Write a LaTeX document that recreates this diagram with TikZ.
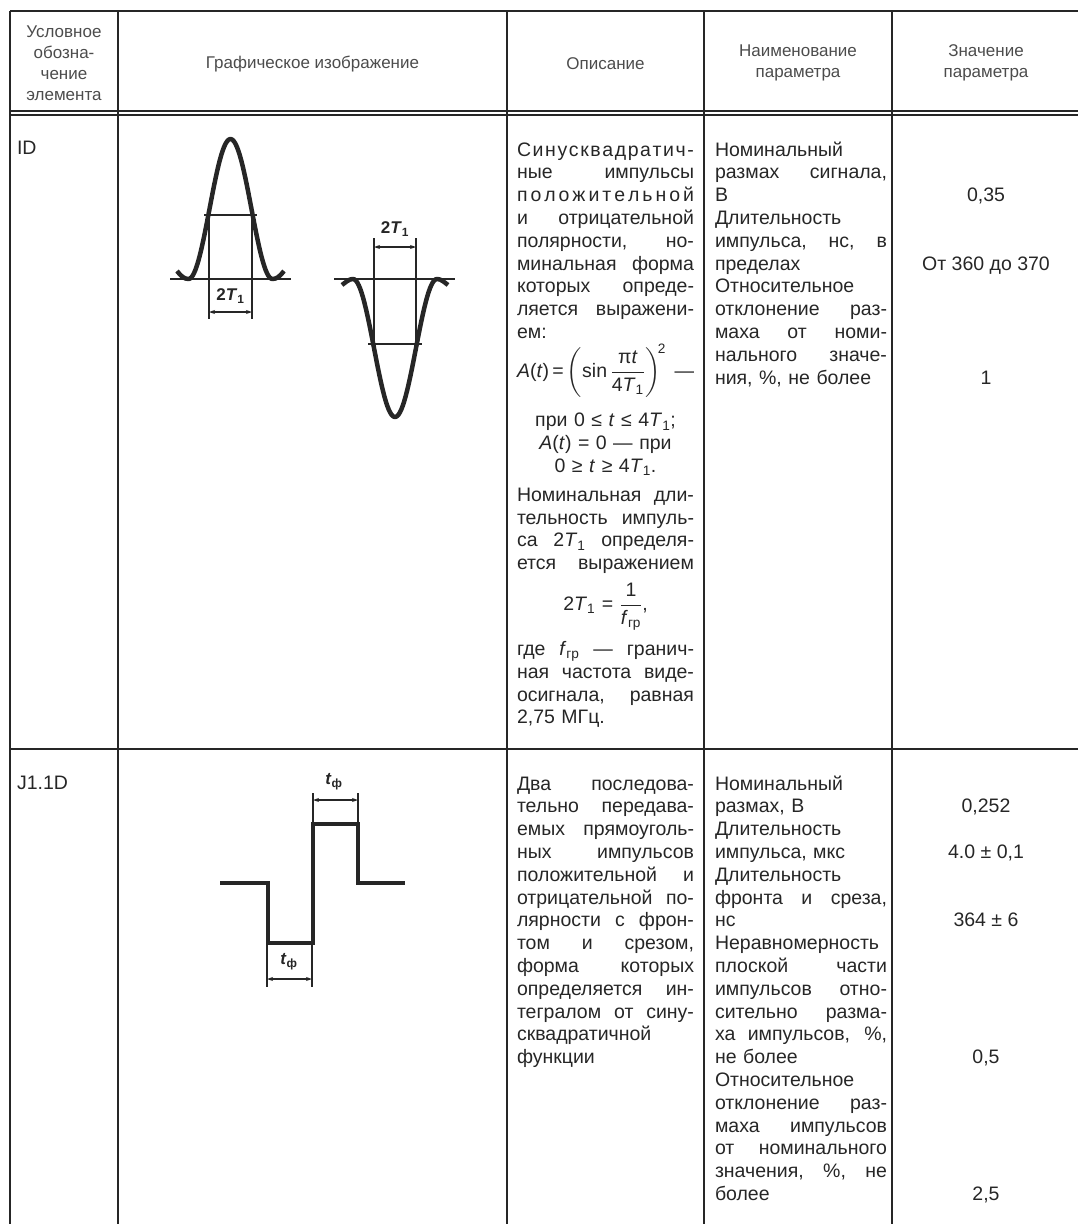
\documentclass[tikz,border=0pt]{standalone}
\usepackage{amsmath}
\usepackage{fontspec}
\setmainfont{Liberation Sans}
\usetikzlibrary{arrows.meta}

% one line of a cell: justified, left, centred, letter-spaced
\newcommand{\jrow}[1]{\hbox to\linewidth{\spaceskip=.278em plus 1fil\relax#1}}
\newcommand{\lrow}[1]{\hbox to\linewidth{#1\hfil}}
\newcommand{\crow}[1]{\hbox to\linewidth{\hfil#1\hfil}}
\makeatletter
\def\spreadword#1{\spread@go#1\@nil}
\def\spread@go#1#2\@nil{#1\if\relax\detokenize{#2}\relax\else\hfill\spread@go#2\@nil\fi}
\makeatother
\newcommand{\srow}[1]{\hbox to\linewidth{\spreadword{#1}}}
\newcommand{\Tone}{\textit{T}\textsubscript{1}}

\begin{document}
\begin{tikzpicture}[
		x=1pt, y=-1pt,
		%Option for small dimension arrows
		>={Stealth[length=6pt,width=4pt]}, %
		inner sep=0pt, outer sep=0pt,%
		tblrule/.style={line width=1.6pt, color=ink},
		thinrule/.style={line width=1.1pt, color=ink},
		pulse/.style={line width=4.5pt, color=ink, line join=round},
		halfline/.style={line width=2.4pt, color=ink},
		zeroline/.style={line width=1.5pt, color=ink},
		dimline/.style={<->, line width=1.3pt, color=ink},
		headtext/.style={font=\fontsize{17}{21}\selectfont, text=headink, align=center},
		celltext/.style={anchor=base west, font=\fontsize{19.5}{22.8}\selectfont, text=ink},
		valtext/.style={anchor=base, font=\fontsize{19.5}{22.8}\selectfont, text=ink},
		dimlabel/.style={font=\fontsize{17}{17}\selectfont\bfseries, text=ink},
	]
		% Colors
		\colorlet{ink}{black!85}
		\colorlet{headink}{black!70}

		\useasboundingbox (0,0) rectangle (1078,1224);

		% Frame
		\draw[tblrule] (10,11) -- (1078,11);
		\draw[thinrule] (10,111) -- (1078,111);
		\draw[thinrule] (10,115) -- (1078,115);
		\draw[tblrule] (10,749) -- (1078,749);
		\foreach \xc in {10,118,507,704,892}
			\draw[tblrule] (\xc,11) -- (\xc,1224);

		% Header
		\node[headtext] (hsym) at (64,63.5) {Условное\\обозна-\\чение\\элемента};
		\node[headtext] (hgraph) at (312.5,64) {Графическое изображение};
		\node[headtext] (hdesc) at (605.5,64) {Описание};
		\node[headtext] (hname) at (798,63) {Наименование\\параметра};
		\node[headtext] (hval) at (986,63) {Значение\\параметра};

		% Row ID
		\node[celltext] (symID) at (17,154) {ID};

		% positive pulse
		\draw[zeroline] (170,279) -- (291,279);
		\draw[pulse] (177,271) .. controls (181,276) and (184,279) .. (188.5,279)
			-- plot[domain=188.5:272.5, samples=60] (\x, {279 - 140*pow(sin(180*(\x-188.5)/84), 2)})
			.. controls (277,279) and (280,276) .. (284,271);
		\draw[halfline] (204,215) -- (257,215);
		\coordinate (pl) at (209,312);
		\coordinate (pr) at (252,312);
		\draw[halfline] (209,215) -- (209,319);
		\draw[halfline] (252,215) -- (252,319);
		\draw[dimline] (pl) -- (pr);
		\node[dimlabel] (tpos) at (230.5,296) {2\Tone};

		% negative pulse
		\draw[zeroline] (334,279) -- (455,279);
		\draw[pulse] (342,285) .. controls (346,282) and (349,279) .. (353,279)
			-- plot[domain=353:437, samples=60] (\x, {279 + 138*pow(sin(180*(\x-353)/84), 2)})
			.. controls (441,279) and (444,282) .. (448,285);
		\draw[halfline] (368,344) -- (422,344);
		\coordinate (nl) at (374,247);
		\coordinate (nr) at (416,247);
		\draw[halfline] (374,344) -- (374,238);
		\draw[halfline] (416,344) -- (416,238);
		\draw[dimline] (nl) -- (nr);
		\node[dimlabel] (tneg) at (395,229) {2\Tone};

		\node[celltext, text width=177pt] (desc1) at (517,156) {%
			\srow{Синусквадратич-}
			\jrow{ные импульсы}
			\srow{положительной}
			\jrow{и отрицательной}
			\jrow{полярности, но-}
			\jrow{минальная форма}
			\jrow{которых опреде-}
			\jrow{ляется выражени-}
			\lrow{ем:}
			\vskip4pt
			\lrow{\textit{A}(\textit{t})\,=\,$\left(\text{sin}\,\dfrac{\text{π\textit{t}}}{\text{4\textit{T}}_{\text{1}}}\right)^{\!\text{2}}$\hfill —}
			\vskip15pt
			\crow{при 0 ≤ \textit{t} ≤ 4\Tone;}
			\crow{\textit{A}(\textit{t}) = 0 — при}
			\crow{0 ≥ \textit{t} ≥ 4\Tone.}
			\vskip6pt
			\jrow{Номинальная дли-}
			\jrow{тельность импуль-}
			\jrow{са 2\Tone{} определя-}
			\jrow{ется выражением}
			\vskip8pt
			\crow{2\Tone{} = $\dfrac{\text{1}}{\text{\textit{f}}_{\text{гр}}}$,}
			\vskip10pt
			\jrow{где \textit{f}\textsubscript{гр} — гранич-}
			\jrow{ная частота виде-}
			\jrow{осигнала, равная}
			\lrow{2,75 МГц.}
		};

		\node[celltext, text width=172pt] (name1) at (715,156) {%
			\lrow{Номинальный}
			\jrow{размах сигнала,}
			\lrow{В}
			\lrow{Длительность}
			\jrow{импульса, нс, в}
			\lrow{пределах}
			\lrow{Относительное}
			\jrow{отклонение раз-}
			\jrow{маха от номи-}
			\jrow{нального значе-}
			\lrow{ния, \%, не более}
		};

		\node[valtext] (val1a) at (986,201.6) {0,35};
		\node[valtext] (val1b) at (986,270) {От 360 до 370};
		\node[valtext] (val1c) at (986,384) {1};

		% Row J1.1D
		\node[celltext] (symJ) at (17,789) {J1.1D};

		% square pulses
		\draw[pulse, line join=miter] (220,883) -- (268,883) -- (268,943) -- (313,943)
			-- (313,824) -- (358,824) -- (358,883) -- (405,883);
		\coordinate (ql) at (267,979);
		\coordinate (qr) at (312,979);
		\draw[halfline] (267,943) -- (267,987);
		\draw[halfline] (312,943) -- (312,987);
		\draw[dimline] (ql) -- (qr);
		\node[dimlabel] (tfall) at (289,962) {\textit{t}\textsubscript{ф}};
		\coordinate (rl) at (313,800);
		\coordinate (rr) at (358,800);
		\draw[halfline] (313,824) -- (313,793);
		\draw[halfline] (358,824) -- (358,793);
		\draw[dimline] (rl) -- (rr);
		\node[dimlabel] (trise) at (334,782) {\textit{t}\textsubscript{ф}};

		\node[celltext, text width=177pt] (desc2) at (517,790) {%
			\jrow{Два последова-}
			\jrow{тельно передава-}
			\jrow{емых прямоуголь-}
			\jrow{ных импульсов}
			\jrow{положительной и}
			\jrow{отрицательной по-}
			\jrow{лярности с фрон-}
			\jrow{том и срезом,}
			\jrow{форма которых}
			\jrow{определяется ин-}
			\jrow{тегралом от сину-}
			\lrow{сквадратичной}
			\lrow{функции}
		};

		\node[celltext, text width=172pt] (name2) at (715,790) {%
			\lrow{Номинальный}
			\lrow{размах, В}
			\lrow{Длительность}
			\lrow{импульса, мкс}
			\lrow{Длительность}
			\jrow{фронта и среза,}
			\lrow{нс}
			\lrow{Неравномерность}
			\jrow{плоской части}
			\jrow{импульсов отно-}
			\jrow{сительно разма-}
			\jrow{ха импульсов, \%,}
			\lrow{не более}
			\lrow{Относительное}
			\jrow{отклонение раз-}
			\jrow{маха импульсов}
			\jrow{от номинального}
			\jrow{значения, \%, не}
			\lrow{более}
		};

		\node[valtext] (val2a) at (986,812.8) {0,252};
		\node[valtext] (val2b) at (986,858.4) {4.0 ± 0,1};
		\node[valtext] (val2c) at (986,926.8) {364 ± 6};
		\node[valtext] (val2d) at (986,1063.6) {0,5};
		\node[valtext] (val2e) at (986,1200.4) {2,5};
	\end{tikzpicture}
\end{document}
